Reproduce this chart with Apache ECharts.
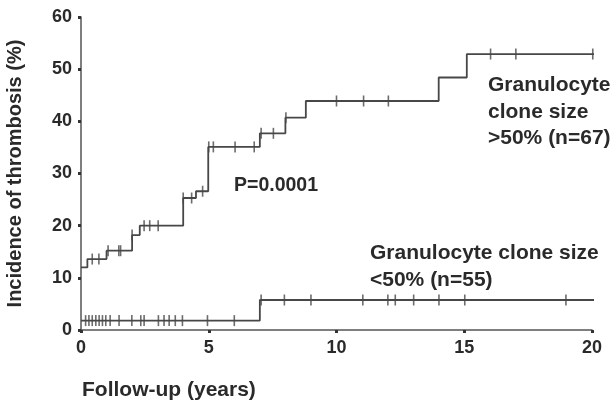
<!DOCTYPE html>
<html>
<head>
<meta charset="utf-8">
<script src="https://cdn.jsdelivr.net/npm/echarts@6/dist/echarts.min.js"></script>
<style>
html,body{margin:0;padding:0;background:#fff;}
#chart{width:616px;height:409px;}
</style>
</head>
<body>
<div id="chart"></div>
<script>
// Kaplan-Meier step data (time in years, cumulative incidence %)
const upperTimes  = [0, 0.25, 1.0, 2.0, 2.3, 4.0, 4.5, 4.98, 7.0, 8.0, 8.8, 14.0, 15.1, 20.9];
const upperValues = [12, 13.6, 15.2, 18.2, 20, 25.3, 26.6, 35.1, 37.7, 40.7, 43.9, 48.4, 52.9, 52.9];
const upperCensored = [0.44, 0.7, 1.06, 1.48, 1.55, 2.0, 2.47, 2.69, 3.02, 4.0, 4.33, 4.76, 5.0, 5.18, 6.03, 6.78, 7.05, 7.53, 8.02, 10.0, 11.06, 12.03, 16.03, 17.02, 20.03];

const lowerTimes  = [0, 7.0, 20.8];
const lowerValues = [1.8, 5.75, 5.75];
const lowerCensored = [0.18, 0.31, 0.44, 0.58, 0.71, 0.84, 0.97, 1.14, 1.49, 1.99, 2.34, 2.47, 3.03, 3.25, 3.45, 3.69, 3.97, 4.95, 6.0, 7.05, 7.96, 9.0, 11.03, 12.01, 12.3, 13.02, 14.01, 15.02, 18.98];

const xTicks = [0, 5, 10, 15, 20];
const yTicks = [0, 10, 20, 30, 40, 50, 60];

const pText = 'P=0.0001';
const upperLabel = 'Granulocyte\nclone size\n>50% (n=67)';
const lowerLabel = 'Granulocyte clone size\n<50% (n=55)';
const xName = 'Follow-up (years)';
const yName = 'Incidence of thrombosis (%)';

function valueAt(times, values, t) {
  let v = values[0];
  for (let i = 0; i < times.length; i++) { if (times[i] <= t + 1e-9) v = values[i]; }
  return v;
}
const upperLine = upperTimes.map((t, i) => [t, upperValues[i]]);
const lowerLine = lowerTimes.map((t, i) => [t, lowerValues[i]]);
const upperCens = upperCensored.map(t => [t, valueAt(upperTimes, upperValues, t)]);
const lowerCens = lowerCensored.map(t => [t, valueAt(lowerTimes, lowerValues, t)]);

const FONT = '"Liberation Sans", Arial, Helvetica, sans-serif';
const INK = '#2a2a2a';
const LINE = '#474747';

const chart = echarts.init(document.getElementById('chart'), null, {renderer: 'canvas'});
chart.setOption({
  backgroundColor: '#ffffff',
  animation: false,
  grid: {left: 81, right: 24, top: 17, bottom: 79, containLabel: false, outerBoundsMode: 'none'},
  xAxis: {
    type: 'value', min: xTicks[0], max: xTicks[xTicks.length - 1], interval: 5,
    axisLine: {show: true, lineStyle: {color: '#555', width: 1.5}},
    axisTick: {show: true, length: 3, lineStyle: {color: '#333', width: 3}},
    axisLabel: {color: INK, fontFamily: FONT, fontWeight: 'bold', fontSize: 18, margin: 9},
    splitLine: {show: false}
  },
  yAxis: {
    type: 'value', min: yTicks[0], max: yTicks[yTicks.length - 1], interval: 10,
    name: yName, nameLocation: 'middle', nameRotate: 90, nameGap: 56,
    nameTextStyle: {color: INK, fontFamily: FONT, fontWeight: 'bold', fontSize: 20},
    axisLine: {show: true, lineStyle: {color: '#555', width: 1.5}},
    axisTick: {show: true, length: 3, lineStyle: {color: '#333', width: 3}},
    axisLabel: {color: INK, fontFamily: FONT, fontWeight: 'bold', fontSize: 18, margin: 9},
    splitLine: {show: false}
  },
  series: [
    {type: 'line', data: upperLine, step: 'end', symbol: 'none', clip: false,
     lineStyle: {color: LINE, width: 1.8}},
    {type: 'line', data: lowerLine, step: 'end', symbol: 'none', clip: false,
     lineStyle: {color: LINE, width: 1.8}},
    {type: 'scatter', data: upperCens, symbol: 'rect', symbolSize: [1.6, 11], clip: false,
     itemStyle: {color: LINE}},
    {type: 'scatter', data: lowerCens, symbol: 'rect', symbolSize: [1.6, 11], clip: false,
     itemStyle: {color: LINE}}
  ],
  graphic: [
    {type: 'text', left: 234, top: 176,
     style: {text: pText, fill: INK, font: 'bold 19.5px ' + FONT}},
    {type: 'text', left: 488, top: 72,
     style: {text: upperLabel, fill: INK, font: 'bold 21px ' + FONT, lineHeight: 26.5}},
    {type: 'text', left: 370, top: 240,
     style: {text: lowerLabel, fill: INK, font: 'bold 21px ' + FONT, lineHeight: 27}},
    {type: 'text', left: 82, top: 380,
     style: {text: xName, fill: INK, font: 'bold 21px ' + FONT}}
  ]
});
</script>
</body>
</html>
